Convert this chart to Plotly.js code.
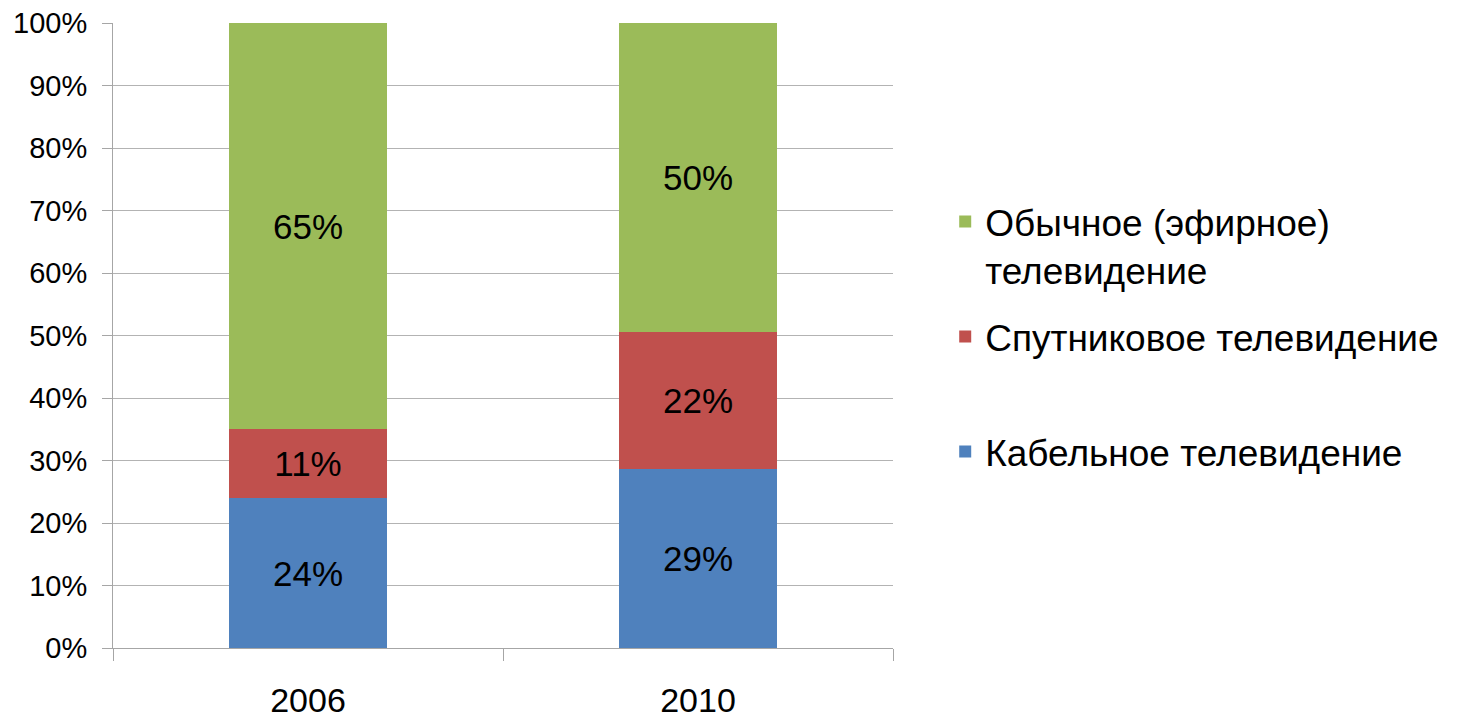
<!DOCTYPE html>
<html>
<head>
<meta charset="utf-8">
<script src="https://cdn.plot.ly/plotly-3.0.1.min.js"></script>
<style>html,body{margin:0;padding:0;background:#fff;}#chart{width:1470px;height:721px;}</style>
</head>
<body>
<div id="chart"></div>
<script>
const years = ['2006', '2010'];
const cableValues = [24, 29];
const satelliteValues = [11, 22];
const terrestrialValues = [65, 50];
const seriesNames = ['Кабельное телевидение', 'Спутниковое телевидение', 'Обычное (эфирное)<br>телевидение'];
const seriesColors = ['#4F81BD', '#C0504D', '#9BBB59'];

const FONT = 'Liberation Sans, Arial, sans-serif';
const labelFont = {family: FONT, size: 35, color: '#000'};

function mk(values, i, legendId) {
  return {
    type: 'bar',
    x: years,
    y: values,
    name: seriesNames[i],
    marker: {color: seriesColors[i], line: {width: 0}},
    text: values.map(v => v + '%'),
    texttemplate: '%{text}',
    textposition: 'inside',
    insidetextanchor: 'middle',
    textangle: 0,
    textfont: labelFont,
    insidetextfont: labelFont,
    hoverinfo: 'skip',
    legend: legendId
  };
}

const data = [
  mk(cableValues, 0, 'legend3'),
  mk(satelliteValues, 1, 'legend2'),
  mk(terrestrialValues, 2, 'legend')
];

const legendBase = {
  xref: 'container', yref: 'container',
  x: 0.643, xanchor: 'left', yanchor: 'middle',
  font: {family: FONT, size: 37, color: '#000'},
  bgcolor: 'rgba(0,0,0,0)', borderwidth: 0
};

const layout = {
  width: 1470, height: 721,
  margin: {l: 113, r: 577, t: 23, b: 73},
  paper_bgcolor: '#fff', plot_bgcolor: '#fff',
  barmode: 'stack', barnorm: 'percent', bargap: 0.595,
  font: {family: FONT, color: '#000'},
  showlegend: true,
  legend: Object.assign({}, legendBase, {y: 1 - 246 / 721, valign: 'top'}),
  legend2: Object.assign({}, legendBase, {y: 1 - 337 / 721}),
  legend3: Object.assign({}, legendBase, {y: 1 - 452 / 721}),
  xaxis: {
    type: 'category',
    showgrid: false,
    showline: true, linecolor: '#a6a6a6', linewidth: 1,
    ticks: 'outside', tickson: 'boundaries', ticklen: 12, tickcolor: '#a6a6a6', tickwidth: 1,
    tickfont: {family: FONT, size: 34, color: '#000'},
    ticklabelstandoff: 22,
    zeroline: false, fixedrange: true
  },
  yaxis: {
    range: [0, 100], dtick: 10, tick0: 0,
    ticksuffix: '%',
    showgrid: true, gridcolor: '#b3b3b3', gridwidth: 1,
    showline: true, linecolor: '#a6a6a6', linewidth: 1,
    ticks: 'outside', ticklen: 10, tickcolor: '#a6a6a6', tickwidth: 1,
    tickfont: {family: FONT, size: 29, color: '#000'},
    ticklabelstandoff: 9,
    zeroline: false, fixedrange: true
  }
};

Plotly.newPlot('chart', data, layout, {displayModeBar: false, staticPlot: true});
</script>
</body>
</html>
